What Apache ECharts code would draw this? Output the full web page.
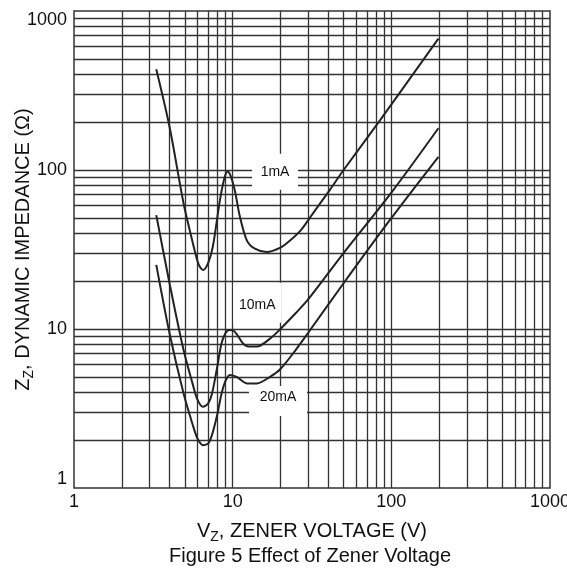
<!DOCTYPE html>
<html>
<head>
<meta charset="utf-8">
<script src="https://cdn.jsdelivr.net/npm/echarts@6/dist/echarts.min.js"></script>
<style>
html,body{margin:0;padding:0;background:#fff;}
#chart{width:567px;height:570px;}
</style>
</head>
<body>
<div id="chart"></div>
<script>
// ---- data (Vz in volts, Zz in ohms) ----
const seriesNames = ['1mA', '10mA', '20mA'];
const curve1mA = [[3.3,430],[4.0,187],[4.9,62],[5.6,35],[6.1,25.5],[6.5,23.5],[7.0,26],[7.5,33],[8.3,64],[8.9,90],[9.3,98],[9.7,92],[10.3,75],[11.1,51],[12.3,36],[13.8,32],[16.4,30.5],[20,32.5],[23,36],[27,42],[31.5,52],[35.5,61.5],[41,75],[50,100],[85,206],[198,670]];
const curve10mA = [[3.3,52],[4.0,19.4],[4.9,7.4],[5.6,4.5],[6.0,3.6],[6.5,3.24],[7.0,3.4],[7.4,3.9],[8.0,5.8],[8.5,8.1],[9.0,9.4],[9.5,9.85],[10.0,9.8],[10.6,9.3],[11.5,8.2],[12.3,7.8],[14.2,7.75],[17.2,8.7],[20,10.0],[25,12.6],[30,15.4],[50,30],[100,72],[198,183]];
const curve20mA = [[3.3,25.3],[4.0,9.4],[4.9,3.94],[5.6,2.5],[6.0,2.05],[6.5,1.86],[7.0,1.9],[7.4,2.15],[8.0,2.9],[8.5,3.9],[9.0,4.7],[9.6,5.14],[10.0,5.1],[10.6,5.0],[12.3,4.55],[14.2,4.55],[17.2,5.0],[20,5.6],[25,7.4],[30,9.5],[50,19.4],[98,48.5],[198,121]];
const curveLabelAnchors = [[18.5,97.6],[14.3,14.2],[19.3,3.74]];
const xGridValues = [2,3,4,5,6,7,8,9,10,20,30,40,50,60,70,80,90,100,200,300,400,500,600,700,800,900];
const yGridValues = [2,3,4,5,6,7,8,9,10,20,30,40,50,60,70,80,90,100,200,300,400,500,600,700,800,900];
const xTickLabels = ['1','10','100','1000'];
const yTickLabels = ['1','10','100','1000'];
const xTitle = '{n|V}{s|Z}{n|, ZENER VOLTAGE (V)}';
const yTitle = '{n|Z}{s|Z}{n|, DYNAMIC IMPEDANCE (Ω)}';
const caption = 'Figure 5 Effect of Zener Voltage';

const FONT = 'Liberation Sans, Arial, sans-serif';
const GRIDC = '#333';
const CURVEC = '#222';

const chart = echarts.init(document.getElementById('chart'), null, {renderer: 'canvas'});

const gridLines = xGridValues.map(v => ({xAxis: v})).concat(yGridValues.map(v => ({yAxis: v})));

const boxSizes = [[46,36],[48,40],[58,30]];
const boxOffsets = [[0,0],[0,-2],[0,4]];

function curveSeries(name, data, idx) {
  const s = {
    name: name,
    type: 'line',
    data: data,
    smooth: 0.3,
    showSymbol: false,
    symbol: 'none',
    z: 3,
    lineStyle: {color: CURVEC, width: 2},
    markPoint: {
      z: 2,
      silent: true,
      symbol: 'rect',
      symbolSize: boxSizes[idx],
      symbolOffset: boxOffsets[idx],
      itemStyle: {color: '#fff'},
      label: {show: true, position: 'inside', offset: [-boxOffsets[idx][0], -boxOffsets[idx][1]], color: '#111', fontSize: 14, fontFamily: FONT, formatter: name},
      data: [{coord: curveLabelAnchors[idx], name: name}]
    }
  };
  if (idx === 0) {
    s.markLine = {
      z: 1,
      silent: true,
      symbol: ['none','none'],
      label: {show: false},
      lineStyle: {color: GRIDC, width: 1.3, type: 'solid'},
      emphasis: {disabled: true},
      data: gridLines
    };
  }
  return s;
}

const richTitle = {
  n: {fontSize: 20, lineHeight: 23, verticalAlign: 'top', fontFamily: FONT, color: '#111'},
  s: {fontSize: 14, lineHeight: 14, verticalAlign: 'bottom', fontFamily: FONT, color: '#111'}
};

const option = {
  animation: false,
  backgroundColor: '#fff',
  title: {
    text: caption,
    left: 305,
    top: 541,
    textAlign: 'center',
    textStyle: {fontSize: 20, fontWeight: 'normal', color: '#111', fontFamily: FONT}
  },
  grid: {left: 74, top: 11, width: 476, height: 477, containLabel: false, outerBoundsMode: 'none', show: true, borderColor: GRIDC, borderWidth: 1.5, backgroundColor: '#fff'},
  xAxis: {
    type: 'log', logBase: 10, min: 1, max: 1000,
    axisLine: {show: false},
    axisTick: {show: false},
    splitLine: {show: false},
    axisLabel: {
      color: '#111', fontSize: 18, fontFamily: FONT, margin: 5,
      formatter: v => xTickLabels[Math.round(Math.log10(v))]
    },
    name: xTitle, nameLocation: 'middle', nameGap: 33, nameMoveOverlap: false,
    nameTextStyle: {rich: richTitle}
  },
  yAxis: {
    type: 'log', logBase: 10, min: 1, max: 1000,
    axisLine: {show: false},
    axisTick: {show: false},
    splitLine: {show: false},
    axisLabel: {
      color: '#111', fontSize: 18, fontFamily: FONT, margin: 7,
      verticalAlignMinLabel: 'bottom', verticalAlignMaxLabel: 'top',
      formatter: v => yTickLabels[Math.round(Math.log10(v))]
    },
    name: yTitle, nameLocation: 'middle', nameGap: 38, nameRotate: 90, nameMoveOverlap: false,
    nameTextStyle: {rich: richTitle}
  },
  series: [
    curveSeries(seriesNames[0], curve1mA, 0),
    curveSeries(seriesNames[1], curve10mA, 1),
    curveSeries(seriesNames[2], curve20mA, 2)
  ]
};
chart.setOption(option);
</script>
</body>
</html>
